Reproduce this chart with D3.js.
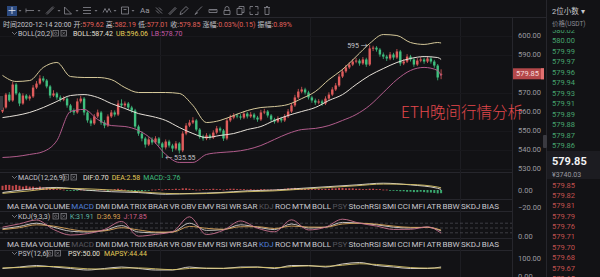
<!DOCTYPE html>
<html>
<head>
<meta charset="utf-8">
<script src="https://cdn.jsdelivr.net/npm/d3@7"></script>
<style>
  html, body { margin: 0; padding: 0; background: #121215; overflow: hidden; }
  svg { display: block; }
  text { font-family: Roboto, "Noto Sans CJK SC", sans-serif; }
</style>
</head>
<body>
<div id="chart"></div>
<script>
// ETH/USDT 1h candles
const opens = [560.0,562.1,568.9,565.8,574.2,569.5,564.2,568.4,566.8,567.9,
  572.6,574.7,577.4,576.3,573.2,568.4,569.5,567.4,566.3,566.8,
  563.2,560.5,559.5,565.3,566.8,559.5,555.3,553.7,557.4,559.5,
  554.2,552.6,557.4,559.5,558.4,564.2,563.2,564.2,562.1,560.5,
  552.1,548.4,545.8,542.6,545.3,543.7,545.8,543.2,541.1,544.2,
  542.1,540.5,543.2,539.5,548.4,552.6,554.2,555.3,550.5,546.8,
  545.8,547.4,546.3,548.9,551.1,550.0,545.8,555.3,556.8,557.9,
  557.4,556.8,558.9,557.4,558.4,556.8,555.8,559.5,560.0,557.9,
  555.8,554.7,556.3,555.3,557.4,560.0,563.2,567.4,570.5,571.6,
  570.0,567.4,565.8,564.7,565.3,564.2,566.8,568.9,571.6,573.7,
  578.4,581.1,583.2,584.7,586.3,586.8,585.3,587.4,584.7,593.2,
  593.6,592.6,590.0,588.9,587.9,590.0,588.4,591.6,585.3,586.3,
  588.9,587.4,584.7,586.8,587.4,586.3,587.9,586.3,584.2,579.62];
const highs = [563.0,569.8,570.2,575.6,575.0,570.1,569.6,569.2,568.8,573.9,
  576.0,579.1,578.6,577.1,574.0,571.2,570.3,568.5,568.0,567.5,
  564.0,561.6,566.9,568.2,567.6,560.4,556.4,558.6,561.0,560.3,
  555.4,558.5,560.8,560.6,565.9,566.4,565.3,565.0,563.0,561.4,
  553.0,549.6,546.7,546.5,546.4,547.0,546.6,544.0,545.3,545.1,
  543.0,544.4,544.0,549.6,553.9,555.6,557.0,556.1,551.3,547.8,
  548.6,548.3,550.1,552.4,552.0,550.8,556.6,558.3,559.2,559.0,
  558.6,560.2,559.8,559.7,559.3,557.7,560.9,561.4,560.8,558.7,
  556.7,557.5,557.2,558.6,561.3,564.5,568.8,571.9,573.0,572.5,
  570.9,568.3,566.8,566.5,566.2,568.0,570.1,572.8,575.0,579.8,
  582.5,584.5,586.0,587.6,588.2,587.7,588.7,588.3,595.0,594.6,
  594.4,593.4,591.1,589.8,591.3,590.9,592.9,592.4,587.6,590.2,
  589.8,588.3,588.1,588.7,588.3,589.1,588.8,587.2,585.0,582.19];
const lows = [559.2,561.5,565.0,565.1,568.6,562.8,563.5,565.9,565.7,567.1,
  571.8,574.0,575.4,572.2,567.0,567.6,566.2,565.1,565.4,562.0,
  559.3,558.1,558.8,564.3,558.0,554.1,552.3,552.9,556.5,553.0,
  551.2,551.8,556.6,557.3,557.6,562.4,562.1,561.0,559.4,551.0,
  547.2,544.3,541.0,541.8,542.5,542.9,541.9,535.55,540.0,541.0,
  538.8,539.6,537.9,538.6,547.5,551.8,553.4,549.6,545.7,544.6,
  544.9,545.2,545.5,548.0,548.9,544.5,544.9,554.4,555.9,556.4,
  555.7,556.0,556.3,556.6,555.7,554.6,555.0,558.6,556.8,554.5,
  553.6,553.9,554.2,554.5,556.6,559.2,562.4,566.6,569.6,568.9,
  566.3,564.6,563.5,563.8,563.0,563.4,566.0,568.1,570.8,572.9,
  577.6,580.3,582.4,583.9,585.4,584.1,584.5,583.5,583.9,591.8,
  591.5,588.8,587.6,586.6,587.0,587.2,587.6,584.0,584.4,585.5,
  586.3,583.5,583.9,585.9,585.1,585.5,585.2,583.0,576.4,577.01];
const closes = [562.1,568.9,565.8,574.2,569.5,564.2,568.4,566.8,567.9,572.6,
  574.7,577.4,576.3,573.2,568.4,569.5,567.4,566.3,566.8,563.2,
  560.5,559.5,565.3,566.8,559.5,555.3,553.7,557.4,559.5,554.2,
  552.6,557.4,559.5,558.4,564.2,563.2,564.2,562.1,560.5,552.1,
  548.4,545.8,542.6,545.3,543.7,545.8,543.2,541.1,544.2,542.1,
  540.5,543.2,539.5,548.4,552.6,554.2,555.3,550.5,546.8,545.8,
  547.4,546.3,548.9,551.1,550.0,545.8,555.3,556.8,557.9,557.4,
  556.8,558.9,557.4,558.4,556.8,555.8,559.5,560.0,557.9,555.8,
  554.7,556.3,555.3,557.4,560.0,563.2,567.4,570.5,571.6,570.0,
  567.4,565.8,564.7,565.3,564.2,566.8,568.9,571.6,573.7,578.4,
  581.1,583.2,584.7,586.3,586.8,585.3,587.4,584.7,593.2,593.6,
  592.6,590.0,588.9,587.9,590.0,588.4,591.6,585.3,586.3,588.9,
  587.4,584.7,586.8,587.4,586.3,587.9,586.3,584.2,577.9,579.85];

// Bollinger bands, read at every 4th candle
const bandIdx = [0,4,8,12,16,20,24,28,32,36,40,44,48,52,56,60,64,68,72,76,80,84,88,92,96,100,104,108,112,116,120,124,128,129];
const bollUp = [579.0,575.8,576.3,583.2,585.8,578.4,577.9,577.9,576.8,572.6,570.0,570.0,570.0,569.5,563.2,554.2,555.3,557.9,560.5,562.1,562.6,563.7,566.8,570.5,576.8,582.1,588.9,595.8,600.5,600.0,596.3,595.3,596.3,596.06];
const bollMid = [556.8,557.9,559.5,562.1,565.3,568.4,568.9,567.4,564.2,561.6,558.9,557.4,555.3,551.6,548.4,546.3,547.4,548.4,550.5,552.1,555.3,557.9,560.0,562.1,565.8,568.9,574.2,579.0,582.6,585.8,587.9,588.9,588.4,587.42];
const bollLow = [535.8,536.3,537.4,538.9,544.7,560.0,561.1,555.8,552.6,552.1,550.0,545.3,537.4,533.2,533.2,537.4,538.4,538.9,540.0,542.1,545.3,548.4,550.5,551.1,552.6,555.3,558.4,563.2,570.0,576.8,581.6,583.2,581.6,578.7];

// MACD
const macdIdx = [0,8,16,24,32,40,48,56,64,72,80,88,96,104,112,120,128,129];
const difVals = [-3,1,3,0,-2,-3,-5,-4,-3,-1,0,2,4,6,8,6,2,0.70];
const deaVals = [-4,-1,2,1.5,0,-2,-4,-4.5,-3.5,-2,-1,1,3,5,7,6.5,3.5,2.58];
const macdHist = [5,6,6,5,6,5,4,5,4,4, 3,4,3,3,2,2,1,1,0.5,-0.5,
  -1,-1,-0.5,0.5,0.5,-0.5,-1,-0.5,0.5,1, 0.5,-0.5,0.5,1,1.5,1,0.5,-0.5,-1,-1.5,
  -1,-1.5,-1,-0.5,0.5,0.5,1,0.5,1,1, 1,1.5,1,2,2,1.5,1,0.5,0.5,1,
  1,1,1.5,1,1,0.5,1,1.5,1.5,1, 1,1,0.5,1,0.5,0.5,1,1,0.5,0.5,
  0.5,1,1,1.5,2,2,2.5,2,2,1.5, 1.5,1,1,1.5,1,1.5,1.5,2,2,2.5,
  2.5,2,2,2,1.5,1.5,1,1,1.5,1.5, 1,1,0.5,0.5,-0.5,-0.5,-1,-1.5,-1.5,-2,
  -2,-2.5,-2.5,-2,-2.5,-3,-3,-3.5,-4,-3.76];

// KDJ and PSY, read at every 5th candle
const oscIdx = [0,5,10,15,20,25,30,35,40,45,50,55,60,65,70,75,80,85,90,95,100,105,110,115,120,125,129];
const kVals = [45,60,80,55,30,25,35,65,25,20,25,80,35,40,70,55,40,75,50,55,85,80,70,55,50,55,31.91];
const dVals = [40,52,70,62,42,30,32,52,38,25,24,60,48,42,58,58,47,62,56,55,75,80,74,62,54,54,36.93];
const jVals = [55,76,100,41,6,15,41,91,-1,10,27,120,9,36,94,49,26,101,38,55,105,80,62,41,42,57,17.85];
const psyVals = [41.7,50,58.3,50,41.7,33.3,41.7,50,41.7,33.3,33.3,50,41.7,41.7,50,50,41.7,58.3,58.3,50,66.7,75,58.3,50,41.7,41.7,50];
const mapsyVals = [45,47,52,53,47,40,38,44,45,40,35,42,44,43,46,49,46,52,56,54,60,68,64,56,47,44,44.44];

// 580.00 sits under the last-price tag in the screenshot
const priceTicks = [530,540,550,560,570,590,600];
const askPrices = ["580.02","580.00","579.99","579.97","579.96","579.94","579.93","579.91","579.89","579.88","579.87","579.86"];
const bidPrices = ["579.85","579.82","579.81","579.79","579.76","579.71","579.70","579.68","579.67","579.65"];
const indicatorTabs = ["MA","EMA","VOLUME","MACD","DMI","DMA","TRIX","BRAR","VR","OBV","EMV","RSI","WR","SAR","KDJ","ROC","MTM","BOLL","PSY","StochRSI","SMI","CCI","MFI","ATR","BBW","SKDJ","BIAS"];

(function () {
  const W = 600, H = 277;
  const UP = "#e05c5c", DOWN = "#3fbf7f";
  const GREY = "#9a9aa0", LABEL = "#c4c4ca";
  const FONT = 'Roboto, "Noto Sans CJK SC", sans-serif';

  const svg = d3.select("#chart").append("svg")
    .attr("width", W).attr("height", H);

  svg.append("rect").attr("width", W).attr("height", H).attr("fill", "#121215");

  // shared x: one slot per candle
  const x = d3.scaleLinear().domain([0, closes.length - 1]).range([2.5, 441.1]);
  const yMain = d3.scaleLinear().domain([530, 600]).range([168.5, 35.5]);
  const yMacd = d3.scaleLinear().domain([-20, 0]).range([207, 190]);
  const yKdj = d3.scaleLinear().domain([0, 100]).range([236, 220]);
  const yPsy = d3.scaleLinear().domain([0, 100]).range([276, 258]);

  // frame lines
  const frame = svg.append("g").attr("stroke", "#26262c").attr("shape-rendering", "crispEdges");
  frame.append("line").attr("x1", 0).attr("x2", 546).attr("y1", 17.5).attr("y2", 17.5);
  frame.append("line").attr("x1", 512.5).attr("x2", 512.5).attr("y1", 17).attr("y2", H);
  frame.append("line").attr("x1", 546.5).attr("x2", 546.5).attr("y1", 0).attr("y2", H);
  [172.5, 199.5, 211.5, 238.5, 250.5].forEach(y =>
    frame.append("line").attr("x1", 0).attr("x2", 512).attr("y1", y).attr("y2", y));
  // faint grid
  [160.5, 310.5, 460.5].forEach(gx =>
    svg.append("line").attr("x1", gx).attr("x2", gx).attr("y1", 18).attr("y2", H)
      .attr("stroke", "#1d1d22").attr("shape-rendering", "crispEdges"));
  svg.append("g").selectAll("line").data(priceTicks).join("line")
    .attr("x1", 0).attr("x2", 512)
    .attr("y1", d => Math.round(yMain(d)) + 0.5).attr("y2", d => Math.round(yMain(d)) + 0.5)
    .attr("stroke", "#18181c").attr("shape-rendering", "crispEdges");

  // ---------- main candles ----------
  svg.append("clipPath").attr("id", "mainClip")
    .append("rect").attr("x", 0).attr("y", 28).attr("width", 512).attr("height", 144);
  const main = svg.append("g").attr("clip-path", "url(#mainClip)");

  const candles = closes.map((c, i) => ({ i, o: opens[i], h: highs[i], l: lows[i], c }));
  const col = d => d.c >= d.o ? UP : DOWN;

  main.selectAll(".wick").data(candles).join("line")
    .attr("class", "wick")
    .attr("x1", d => x(d.i)).attr("x2", d => x(d.i))
    .attr("y1", d => yMain(d.h)).attr("y2", d => yMain(d.l))
    .attr("stroke", col).attr("stroke-width", 0.8);

  main.selectAll(".body").data(candles).join("rect")
    .attr("class", "body")
    .attr("x", d => x(d.i) - 1.2).attr("width", 2.4)
    .attr("y", d => yMain(Math.max(d.o, d.c)))
    .attr("height", d => Math.max(1, Math.abs(yMain(d.o) - yMain(d.c))))
    .attr("fill", col);

  const bandLine = vals => d3.line()
    .x((d, k) => x(bandIdx[k])).y(d => yMain(d))
    .curve(d3.curveMonotoneX)(vals);
  main.append("path").attr("d", bandLine(bollUp)).attr("fill", "none").attr("stroke", "#d6c99a").attr("stroke-width", 1);
  main.append("path").attr("d", bandLine(bollMid)).attr("fill", "none").attr("stroke", "#e6e0d8").attr("stroke-width", 1);
  main.append("path").attr("d", bandLine(bollLow)).attr("fill", "none").attr("stroke", "#b25c8c").attr("stroke-width", 1);

  // min / max markers
  const lowI = lows.indexOf(d3.min(lows)), highI = highs.indexOf(d3.max(highs));
  main.append("text").attr("x", x(lowI) + 3).attr("y", yMain(lows[lowI]) + 2.5)
    .attr("fill", LABEL).style("font-size", "7px").text("← " + lows[lowI].toFixed(2));
  main.append("text").attr("x", x(highI) - 2).attr("y", yMain(highs[highI]) + 2.5)
    .attr("text-anchor", "end").attr("fill", LABEL).style("font-size", "7px")
    .text(Math.round(highs[highI]) + " →");

  // price axis
  const axisStyle = g => {
    g.select(".domain").remove();
    g.selectAll("text").attr("fill", GREY).style("font-size", "7.5px").style("font-family", FONT);
  };
  svg.append("g").attr("transform", "translate(514,0)")
    .call(d3.axisRight(yMain).tickValues(priceTicks).tickFormat(d3.format(".2f")).tickSize(0).tickPadding(4))
    .call(axisStyle);

  // last price tag
  const last = closes[closes.length - 1];
  svg.append("rect").attr("x", 513).attr("y", yMain(last) - 5.5).attr("width", 31).attr("height", 11)
    .attr("fill", "#b4484a");
  svg.append("rect").attr("x", 541).attr("y", yMain(last) - 5.5).attr("width", 3).attr("height", 11)
    .attr("fill", "#e07070");
  svg.append("text").attr("x", 516).attr("y", yMain(last) + 2.6)
    .attr("fill", "#f4dcdc").style("font-size", "7.5px").text(last.toFixed(2));

  // overlay caption
  svg.append("text").attr("x", 401).attr("y", 118)
    .attr("fill", "#e4484c").style("font-size", "15.5px").style("font-weight", 300)
    .style("font-family", '"Noto Sans CJK SC", sans-serif')
    .text("ETH晚间行情分析");

  // ---------- MACD ----------
  svg.append("g").selectAll("rect").data(macdHist).join("rect")
    .attr("x", (d, i) => x(i) - 1).attr("width", 2)
    .attr("y", d => d >= 0 ? yMacd(d) : yMacd(0))
    .attr("height", d => Math.max(0.8, Math.abs(yMacd(d) - yMacd(0))))
    .attr("fill", d => d >= 0 ? "#c4484a" : "#3aa86e");
  const oscLine = (idx, yScale) => d3.line()
    .x((d, k) => x(idx[k])).y(d => yScale(d)).curve(d3.curveMonotoneX);
  svg.append("path").attr("d", oscLine(macdIdx, yMacd)(difVals)).attr("fill", "none").attr("stroke", "#e6e0d8").attr("stroke-width", 0.9);
  svg.append("path").attr("d", oscLine(macdIdx, yMacd)(deaVals)).attr("fill", "none").attr("stroke", "#d8c46a").attr("stroke-width", 0.9);
  svg.append("g").attr("transform", "translate(514,0)")
    .call(d3.axisRight(yMacd).tickValues([0, -20]).tickFormat(d3.format(".2f")).tickSize(0).tickPadding(4))
    .call(axisStyle);

  // ---------- KDJ ----------
  [20, 50, 80].forEach(v =>
    svg.append("line").attr("x1", 0).attr("x2", 512).attr("y1", yKdj(v)).attr("y2", yKdj(v))
      .attr("stroke", "#5a5a62").attr("stroke-width", 0.6).attr("stroke-dasharray", "3,2"));
  svg.append("path").attr("d", oscLine(oscIdx, yKdj)(kVals)).attr("fill", "none").attr("stroke", "#d8d4d0").attr("stroke-width", 0.9);
  svg.append("path").attr("d", oscLine(oscIdx, yKdj)(dVals)).attr("fill", "none").attr("stroke", "#d9a45a").attr("stroke-width", 0.9);
  svg.append("path").attr("d", oscLine(oscIdx, yKdj)(jVals)).attr("fill", "none").attr("stroke", "#c8708e").attr("stroke-width", 0.9);
  svg.append("g").attr("transform", "translate(514,0)")
    .call(d3.axisRight(yKdj).tickValues([0]).tickFormat(d3.format(".2f")).tickSize(0).tickPadding(4))
    .call(axisStyle);

  // ---------- PSY ----------
  svg.append("path").attr("d", oscLine(oscIdx, yPsy)(psyVals)).attr("fill", "none").attr("stroke", "#e6e0d8").attr("stroke-width", 0.9);
  svg.append("path").attr("d", oscLine(oscIdx, yPsy)(mapsyVals)).attr("fill", "none").attr("stroke", "#d8c46a").attr("stroke-width", 0.9);
  svg.append("g").attr("transform", "translate(514,0)")
    .call(d3.axisRight(yPsy).tickValues([100, 0]).tickFormat(d3.format(".2f")).tickSize(0).tickPadding(4))
    .call(axisStyle);

  // ---------- headers ----------
  function flow(xp, yp, parts, size) {
    const t = svg.append("text").attr("x", xp).attr("y", yp).style("font-size", size + "px");
    parts.forEach(([s, c, dx]) => t.append("tspan").attr("dx", dx || 0).attr("fill", c).text(s));
    return t;
  }
  function panelIcons(yc, xs) {
    svg.append("path").attr("d", `M12,${yc - 1.5}l2.5,2.5l2.5,-2.5`).attr("fill", "none")
      .attr("stroke", "#8a8a90").attr("stroke-width", 0.8);
    xs.forEach((ix, k) => {
      svg.append("rect").attr("x", ix).attr("y", yc - 3).attr("width", 5.5).attr("height", 5.5)
        .attr("fill", "none").attr("stroke", "#8a8a90").attr("stroke-width", 0.7);
      if (k === 1) svg.append("path").attr("d", `M${ix + 1.2},${yc - 1.8}l3,3M${ix + 4.2},${yc - 1.8}l-3,3`)
        .attr("stroke", "#8a8a90").attr("stroke-width", 0.6);
      else svg.append("circle").attr("cx", ix + 2.75).attr("cy", yc - 0.25).attr("r", 1.2)
        .attr("fill", "none").attr("stroke", "#8a8a90").attr("stroke-width", 0.6);
    });
  }
  const RED = "#e0605a";
  flow(3, 26.5, [["时间2020-12-14 20:00", LABEL], ["开:", LABEL, 2], ["579.62", RED], ["高:", LABEL, 2], ["582.19", RED],
    ["低:", LABEL, 2], ["577.01", RED], ["收:", LABEL, 2], ["579.85", RED], ["涨幅:", LABEL, 2], ["0.03%(0.15)", RED],
    ["振幅:", LABEL, 2], ["0.89%", RED]], 7);

  panelIcons(33.5, [53, 61]);
  svg.append("text").attr("x", 18).attr("y", 36).attr("fill", LABEL).style("font-size", "7px").text("BOLL(20,2)");
  flow(73, 36, [["BOLL:587.42", "#e6e0d8"], ["UB:596.06", "#e4cc58", 3], ["LB:578.70", "#c45aa6", 3]], 7);

  panelIcons(177.5, [63, 71]);
  svg.append("text").attr("x", 18).attr("y", 180).attr("fill", LABEL).style("font-size", "7px").text("MACD(12,26,9)");
  flow(83, 180, [["DIF:0.70", "#e6e0d8"], ["DEA:2.58", "#e4cc58", 3], ["MACD:-3.76", "#3fbf7f", 3]], 7);

  panelIcons(216.5, [53, 61]);
  svg.append("text").attr("x", 18).attr("y", 219).attr("fill", LABEL).style("font-size", "7px").text("KDJ(9,3,3)");
  flow(70, 219, [["K:31.91", "#5fb8a4"], ["D:36.93", "#dca050", 3], ["J:17.85", "#d2608a", 3]], 7);

  panelIcons(253.5, [47, 55]);
  svg.append("text").attr("x", 18).attr("y", 256).attr("fill", LABEL).style("font-size", "7px").text("PSY(12,6)");
  flow(68, 256, [["PSY:50.00", "#e6e0d8"], ["MAPSY:44.44", "#e4cc58", 4]], 7);

  // indicator tab rows, spread to fill 7..499
  function tabRow(yp, active, dim) {
    const t = svg.append("text").attr("x", 7).attr("y", yp).style("font-size", "8px");
    const spans = indicatorTabs.map(n => t.append("tspan").text(n)
      .attr("fill", n === active ? "#4f7fd8" : dim.includes(n) ? "#56565e" : "#c8c8ce"));
    const used = d3.sum(spans, s => s.node().getComputedTextLength());
    const gap = (492 - used) / (indicatorTabs.length - 1);
    spans.forEach((s, k) => { if (k) s.attr("dx", gap); });
  }
  tabRow(208.5, "MACD", ["KDJ", "PSY"]);
  tabRow(247, "KDJ", ["MACD", "PSY"]);

  // ---------- toolbar ----------
  svg.append("rect").attr("x", 7).attr("y", 6).attr("width", 10).attr("height", 10).attr("fill", "#2b4a80");
  const tb = svg.append("g").attr("fill", "none").attr("stroke", "#8a8a92").attr("stroke-width", 0.8);
  const icons = [
    [12, "M-3.5,0H3.5M0,-3.5V3.5"], [30, "M-4,0H4M-4,-2V2"], [50, "M-4,3L3,-4M-3,4L4,-3"],
    [68, "M-3.5,3.5V-3.5L3.5,3.5Z"], [87, "M-4,-3H4M-4,0H4M-4,3H4"], [107, "M-4,2L-2,-2L0,2L2,-2L4,2"],
    [125, "M-3.5,-3.5H3.5V3.5H-3.5ZM-1.5,-1H1.5"], [159, "M-3,-3L3,3M-3,0L0,3M0,-3L3,0"],
    [172, "M-3,3L3,-3L4,-2L-2,4Z"], [184, "M-4,4L-3,1L2,-4L4,-2L-1,3Z"], [199, "M-4,4L-2,1L3,-4M-4,4L-1,2"],
    [213, "M-4,2H4V-1H-4ZM-2,-1V0.5M0,-1V0.5M2,-1V0.5"], [227, "M-3,0H3V4H-3ZM-2,0V-2A2,2 0 0 1 2,-2V0"],
    [240, "M-3,-2H2V4H-3ZM-1,-2V-4H4V2H2"], [254, "M-4,-1V-4H-1M1,-4H4V-1M4,1V4H1M-1,4H-4V1"],
    [267, "M-3,-3H3M-2,-3V4H2V-3M-1,-4H1"]
  ];
  icons.forEach(([ix, d]) => tb.append("path").attr("transform", `translate(${ix},10.5)`).attr("d", d));
  tb.select("path").attr("stroke", "#e8e8ee");
  [20, 39, 59, 77, 96, 115, 133].forEach(ix => svg.append("path")
    .attr("d", `M${ix - 1.5},10l1.5,1.8l1.5,-1.8Z`).attr("fill", "#77777e"));
  svg.append("text").attr("x", 140).attr("y", 13).attr("fill", "#9a9aa2").style("font-size", "8px").text("Aa");

  // ---------- order book column ----------
  svg.append("text").attr("x", 552).attr("y", 13.5).attr("fill", "#c8c8ce").style("font-size", "7.5px").text("2位小数 ▾");
  svg.append("text").attr("x", 552).attr("y", 25.5).attr("fill", "#8a8a92").style("font-size", "6.5px").text("价格(USDT)");
  svg.append("clipPath").attr("id", "bookClip")
    .append("rect").attr("x", 547).attr("y", 30).attr("width", 53).attr("height", H - 30);
  const book = svg.append("g").attr("clip-path", "url(#bookClip)");
  const askY = d3.scaleLinear().domain([0, askPrices.length - 1]).range([33, 148]);
  const bidY = d3.scaleLinear().domain([0, bidPrices.length - 1]).range([187.5, 281]);
  book.selectAll(".ask").data(askPrices).join("text").attr("class", "ask")
    .attr("x", 552).attr("y", (d, i) => askY(i)).attr("fill", "#46a36e").style("font-size", "7.5px").text(d => d);
  book.selectAll(".bid").data(bidPrices).join("text").attr("class", "bid")
    .attr("x", 552).attr("y", (d, i) => bidY(i)).attr("fill", "#c0504e").style("font-size", "7.5px").text(d => d);
  svg.append("rect").attr("x", 547).attr("y", 151).attr("width", 53).attr("height", 28).attr("fill", "#1c1c21");
  svg.append("text").attr("x", 552).attr("y", 165).attr("fill", "#f2f2f4")
    .style("font-size", "11px").style("font-weight", 700).text(last.toFixed(2));
  svg.append("text").attr("x", 552).attr("y", 176.5).attr("fill", "#9a9aa0").style("font-size", "7px").text("¥3740.03");

  // little drag handles
  svg.append("rect").attr("x", 543).attr("y", 135).attr("width", 4).attr("height", 13).attr("rx", 1).attr("fill", "#3a3a40");
  svg.append("rect").attr("x", 0).attr("y", 96).attr("width", 3).attr("height", 14).attr("fill", "#3a3a40");
})();
</script>
</body>
</html>
